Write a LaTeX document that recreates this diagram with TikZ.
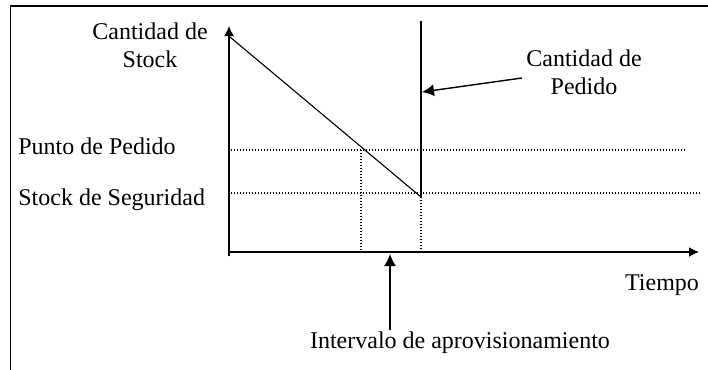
\documentclass[tikz,border=0pt]{standalone}
\usepackage{fontspec}
\setmainfont{Liberation Serif}
\usetikzlibrary{positioning, arrows.meta}

\begin{document}
\begin{tikzpicture}[x=0.5pt,y=-0.5pt,font=\fontsize{12}{14}\selectfont,
		axis/.style={line width=0.75pt,-{Latex[length=5pt,width=5pt]}},
		guide/.style={line width=0.6pt,dash pattern=on 0.6pt off 0.9pt},
		pointer/.style={line width=0.7pt,-{Latex[length=6pt,width=6pt]}},
		lbl/.style={inner sep=1pt,align=center}]
	\useasboundingbox (0,0) rectangle (708,370);
	\draw[line width=0.8pt] (10.5,372) -- (10.5,6) -- (710,6);
	% ejes
	\coordinate (O) at (229,252);
	\coordinate (ytop) at (229,26);
	\coordinate (xend) at (699,252);
	\draw[axis] (229,256) -- (ytop);
	\draw[axis] (O) -- (xend);
	% stock
	\coordinate (qmax) at (230,37);
	\coordinate (qmin) at (421,197);
	\coordinate (qtop) at (421,21);
	\coordinate (rp) at (361,150);
	\draw[line width=0.55pt] (qmax) -- (qmin);
	\draw[line width=0.75pt] (qmin) -- (qtop);
	% niveles
	\draw[guide] (231,150) -- (685,150);
	\draw[guide] (231,193) -- (700,193);
	\draw[guide] (rp) -- (rp |- O);
	\draw[guide] (qmin) -- (qmin |- O);
	% textos
	\node[lbl] (ylbl) at (150,45) {Cantidad de\\Stock};
	\node[lbl,anchor=west] (rplbl) at (16,146) {Punto de Pedido};
	\node[lbl,anchor=west] (sslbl) at (16,200) {Stock de Seguridad};
	\node[lbl] (pedido) at (584,72) {Cantidad de\\Pedido};
	\node[lbl] (tiempo) at (662,285) {Tiempo};
	\node[lbl] (interv) at (460,343) {Intervalo de aprovisionamiento};
	\coordinate (pedhit) at (422,92);
	\coordinate (inthit) at (390,254);
	\draw[pointer] ([xshift=-1pt,yshift=-3pt]pedido.west) -- (pedhit);
	\draw[pointer] (interv.north -| inthit) -- (inthit);
\end{tikzpicture}
\end{document}
